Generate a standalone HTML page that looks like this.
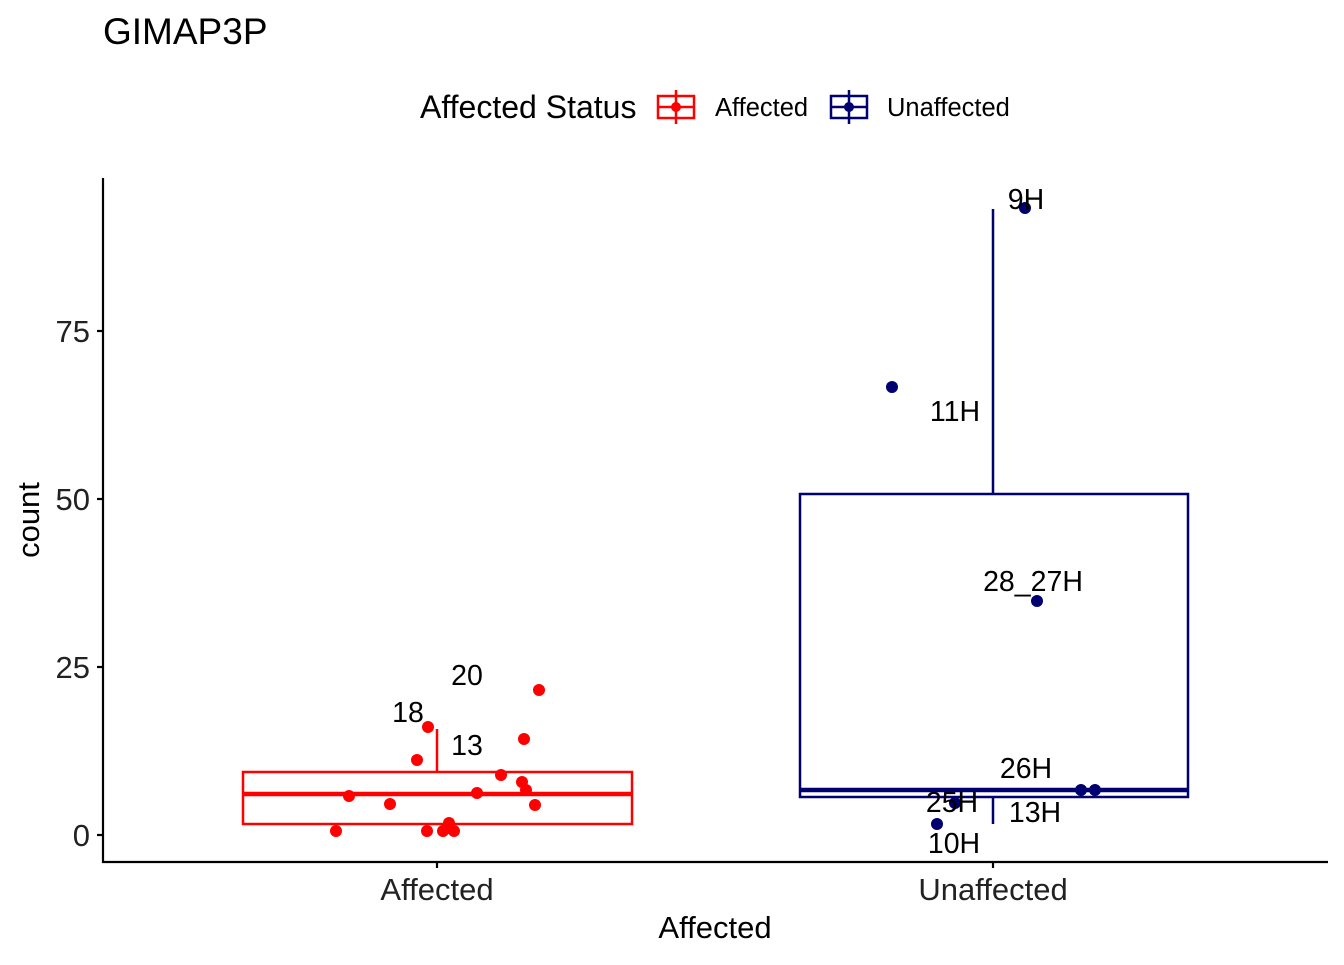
<!DOCTYPE html>
<html><head><meta charset="utf-8"><style>html,body{margin:0;padding:0;background:#fff}</style></head><body>
<svg width="1344" height="960" xmlns="http://www.w3.org/2000/svg" font-family="Liberation Sans, sans-serif">
<rect width="1344" height="960" fill="#fff"/>
<text x="103" y="44" font-size="37">GIMAP3P</text>
<text x="420" y="118" font-size="32">Affected Status</text>
<g stroke="red" stroke-width="2.5" fill="none"><rect x="658" y="96" width="36" height="22"/><line x1="676" y1="90" x2="676" y2="124"/><line x1="658" y1="107" x2="694" y2="107"/></g>
<circle cx="676" cy="107" r="5" fill="red"/>
<text x="715" y="116" font-size="25.5">Affected</text>
<g stroke="#000070" stroke-width="2.5" fill="none"><rect x="831" y="96" width="36" height="22"/><line x1="849" y1="90" x2="849" y2="124"/><line x1="831" y1="107" x2="867" y2="107"/></g>
<circle cx="849" cy="107" r="5" fill="#000070"/>
<text x="887" y="116" font-size="25.5">Unaffected</text>
<g stroke="#000" stroke-width="2.2"><line x1="103" y1="178" x2="103" y2="863"/><line x1="102" y1="862" x2="1328" y2="862"/>
<line x1="97" y1="835" x2="103" y2="835"/><line x1="97" y1="667" x2="103" y2="667"/><line x1="97" y1="499" x2="103" y2="499"/><line x1="97" y1="331" x2="103" y2="331"/>
<line x1="437" y1="862" x2="437" y2="868"/><line x1="993" y1="862" x2="993" y2="868"/></g>
<g font-size="31" fill="#222" text-anchor="end"><text x="90" y="846">0</text><text x="90" y="678">25</text><text x="90" y="510">50</text><text x="90" y="342">75</text></g>
<g font-size="31" fill="#222" text-anchor="middle"><text x="437" y="900">Affected</text><text x="993" y="900">Unaffected</text><text x="715" y="938" fill="#000">Affected</text></g>
<text transform="translate(39,520) rotate(-90)" font-size="31" text-anchor="middle">count</text>
<g stroke="red" stroke-width="2.5" fill="none"><rect x="243" y="772" width="389" height="52"/><line x1="437" y1="729" x2="437" y2="772"/><line x1="243" y1="794" x2="632" y2="794" stroke-width="4.5"/></g>
<g fill="red"><circle cx="539" cy="690" r="6"/><circle cx="428" cy="727" r="6"/><circle cx="417" cy="760" r="6"/><circle cx="524" cy="739" r="6"/><circle cx="501" cy="775" r="6"/><circle cx="522" cy="782" r="6"/><circle cx="526" cy="790" r="6"/><circle cx="535" cy="805" r="6"/><circle cx="477" cy="793" r="6"/><circle cx="349" cy="796" r="6"/><circle cx="390" cy="804" r="6"/><circle cx="336" cy="831" r="6"/><circle cx="427" cy="831" r="6"/><circle cx="443" cy="831" r="6"/><circle cx="449" cy="823" r="6"/><circle cx="448" cy="828" r="6"/><circle cx="454" cy="831" r="6"/></g>
<g font-size="28.5" text-anchor="middle"><text x="467" y="685">20</text><text x="408" y="722">18</text><text x="467" y="755">13</text></g>
<g stroke="#000070" stroke-width="2.5" fill="none"><rect x="800" y="494" width="388" height="303"/><line x1="993" y1="209" x2="993" y2="494"/><line x1="993" y1="797" x2="993" y2="824"/><line x1="800" y1="790" x2="1188" y2="790" stroke-width="4.5"/></g>
<g fill="#000070"><circle cx="1025" cy="208" r="6"/><circle cx="892" cy="387" r="6"/><circle cx="1037" cy="601" r="6"/><circle cx="1081" cy="790" r="6"/><circle cx="1095" cy="790" r="6"/><circle cx="955" cy="803" r="6"/><circle cx="937" cy="824" r="6"/></g>
<g font-size="28.5" text-anchor="middle"><text x="1026" y="209">9H</text><text x="955" y="421">11H</text><text x="1033" y="591">28_27H</text><text x="1026" y="778">26H</text><text x="952" y="812">25H</text><text x="1035" y="822">13H</text><text x="954" y="853">10H</text></g>
</svg>
</body></html>
